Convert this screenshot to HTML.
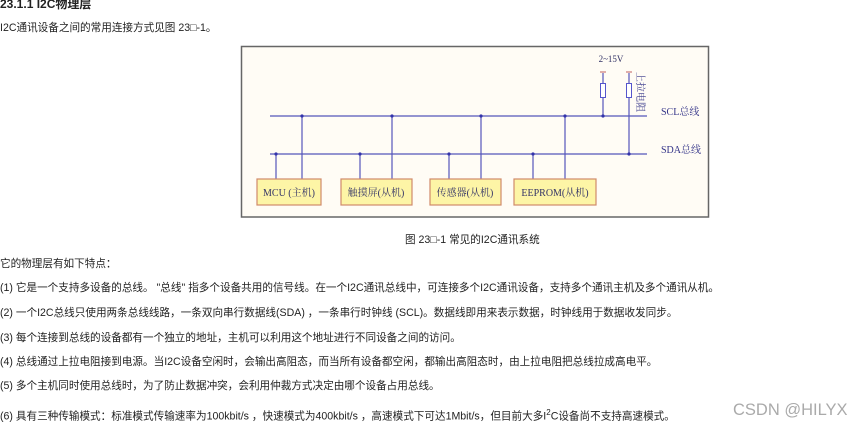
<!DOCTYPE html>
<html><head><meta charset="utf-8"><style>
body{margin:0;width:868px;height:427px;background:#fff;position:relative;overflow:hidden;font-family:"Liberation Sans","Noto Sans CJK SC",sans-serif;color:#222}
.t{position:absolute;white-space:nowrap;font-size:10.6px;line-height:14px}
</style></head><body>
<div class="t" style="left:0;top:-3px;font-size:12px;font-weight:bold">23.1.1 I2C物理层</div>
<div class="t" style="left:0;top:21px">I2C通讯设备之间的常用连接方式见图 23□-1。</div>
<svg style="position:absolute;left:0;top:0" width="868" height="427">
<rect x="241.5" y="46.5" width="467" height="170.5" fill="#fffcf5" stroke="#666" stroke-width="1.5"/>
<g stroke="#5555bb" stroke-width="1.2">
<line x1="270" y1="116" x2="647" y2="116"/>
<line x1="270" y1="154" x2="647" y2="154"/>
<line x1="302" y1="116" x2="302" y2="179"/><line x1="392" y1="116" x2="392" y2="179"/>
<line x1="481" y1="116" x2="481" y2="179"/><line x1="565" y1="116" x2="565" y2="179"/>
<line x1="276" y1="154" x2="276" y2="179"/><line x1="360" y1="154" x2="360" y2="179"/>
<line x1="449" y1="154" x2="449" y2="179"/><line x1="533" y1="154" x2="533" y2="179"/>
<line x1="603" y1="73" x2="603" y2="116"/><line x1="629" y1="73" x2="629" y2="154"/>
</g>
<g fill="#3333aa">
<circle cx="302" cy="116" r="1.6"/><circle cx="392" cy="116" r="1.6"/><circle cx="481" cy="116" r="1.6"/><circle cx="565" cy="116" r="1.6"/><circle cx="603" cy="116" r="1.6"/>
<circle cx="276" cy="154" r="1.6"/><circle cx="360" cy="154" r="1.6"/><circle cx="449" cy="154" r="1.6"/><circle cx="533" cy="154" r="1.6"/><circle cx="629" cy="154" r="1.6"/>
</g>
<g stroke="#c06060" stroke-width="1"><line x1="600" y1="72" x2="606" y2="72"/><line x1="626" y1="72" x2="632" y2="72"/></g>
<g fill="#fff" stroke="#5555cc" stroke-width="1"><rect x="600.5" y="83.5" width="5" height="14"/><rect x="626.5" y="83.5" width="5" height="14"/></g>
<g fill="#fdf5a6" stroke="#d08a6a" stroke-width="1.2">
<rect x="257" y="179" width="64" height="26"/><rect x="341" y="179" width="71" height="26"/>
<rect x="430" y="179" width="71" height="26"/><rect x="514" y="179" width="82" height="26"/>
</g>
<g font-family="Liberation Serif,Noto Serif CJK SC,serif" font-size="10" fill="#333366" text-anchor="middle">
<text x="289" y="196">MCU (主机)</text><text x="376" y="196">触摸屏(从机)</text>
<text x="465" y="196">传感器(从机)</text><text x="555" y="196">EEPROM(从机)</text>
<text x="611" y="62" font-size="9">2~15V</text>
</g>
<g font-family="Liberation Serif,Noto Serif CJK SC,serif" font-size="10" fill="#333388">
<text x="661" y="115">SCL总线</text><text x="661" y="153">SDA总线</text>
<text transform="translate(637,72) rotate(90)" font-size="10">上拉电阻</text>
</g>
</svg>
<div class="t" style="left:405px;top:233px">图 23□-1 常见的I2C通讯系统</div>
<div class="t" style="left:0;top:257px">它的物理层有如下特点：</div>
<div class="t" style="left:0;top:281px">(1) 它是一个支持多设备的总线。 "总线" 指多个设备共用的信号线。在一个I2C通讯总线中，可连接多个I2C通讯设备，支持多个通讯主机及多个通讯从机。</div>
<div class="t" style="left:0;top:306px">(2) 一个I2C总线只使用两条总线线路，一条双向串行数据线(SDA) ，一条串行时钟线 (SCL)。数据线即用来表示数据，时钟线用于数据收发同步。</div>
<div class="t" style="left:0;top:331px">(3) 每个连接到总线的设备都有一个独立的地址，主机可以利用这个地址进行不同设备之间的访问。</div>
<div class="t" style="left:0;top:355px">(4) 总线通过上拉电阻接到电源。当I2C设备空闲时，会输出高阻态，而当所有设备都空闲，都输出高阻态时，由上拉电阻把总线拉成高电平。</div>
<div class="t" style="left:0;top:379px">(5) 多个主机同时使用总线时，为了防止数据冲突，会利用仲裁方式决定由哪个设备占用总线。</div>
<div class="t" style="left:0;top:406px">(6) 具有三种传输模式：标准模式传输速率为100kbit/s ，快速模式为400kbit/s ，高速模式下可达1Mbit/s，但目前大多I<sup style="font-size:8px">2</sup>C设备尚不支持高速模式。</div>
<div class="t" style="left:733px;top:401px;font-size:16.5px;line-height:19px;color:#aaa">CSDN @HILYX</div>
</body></html>
